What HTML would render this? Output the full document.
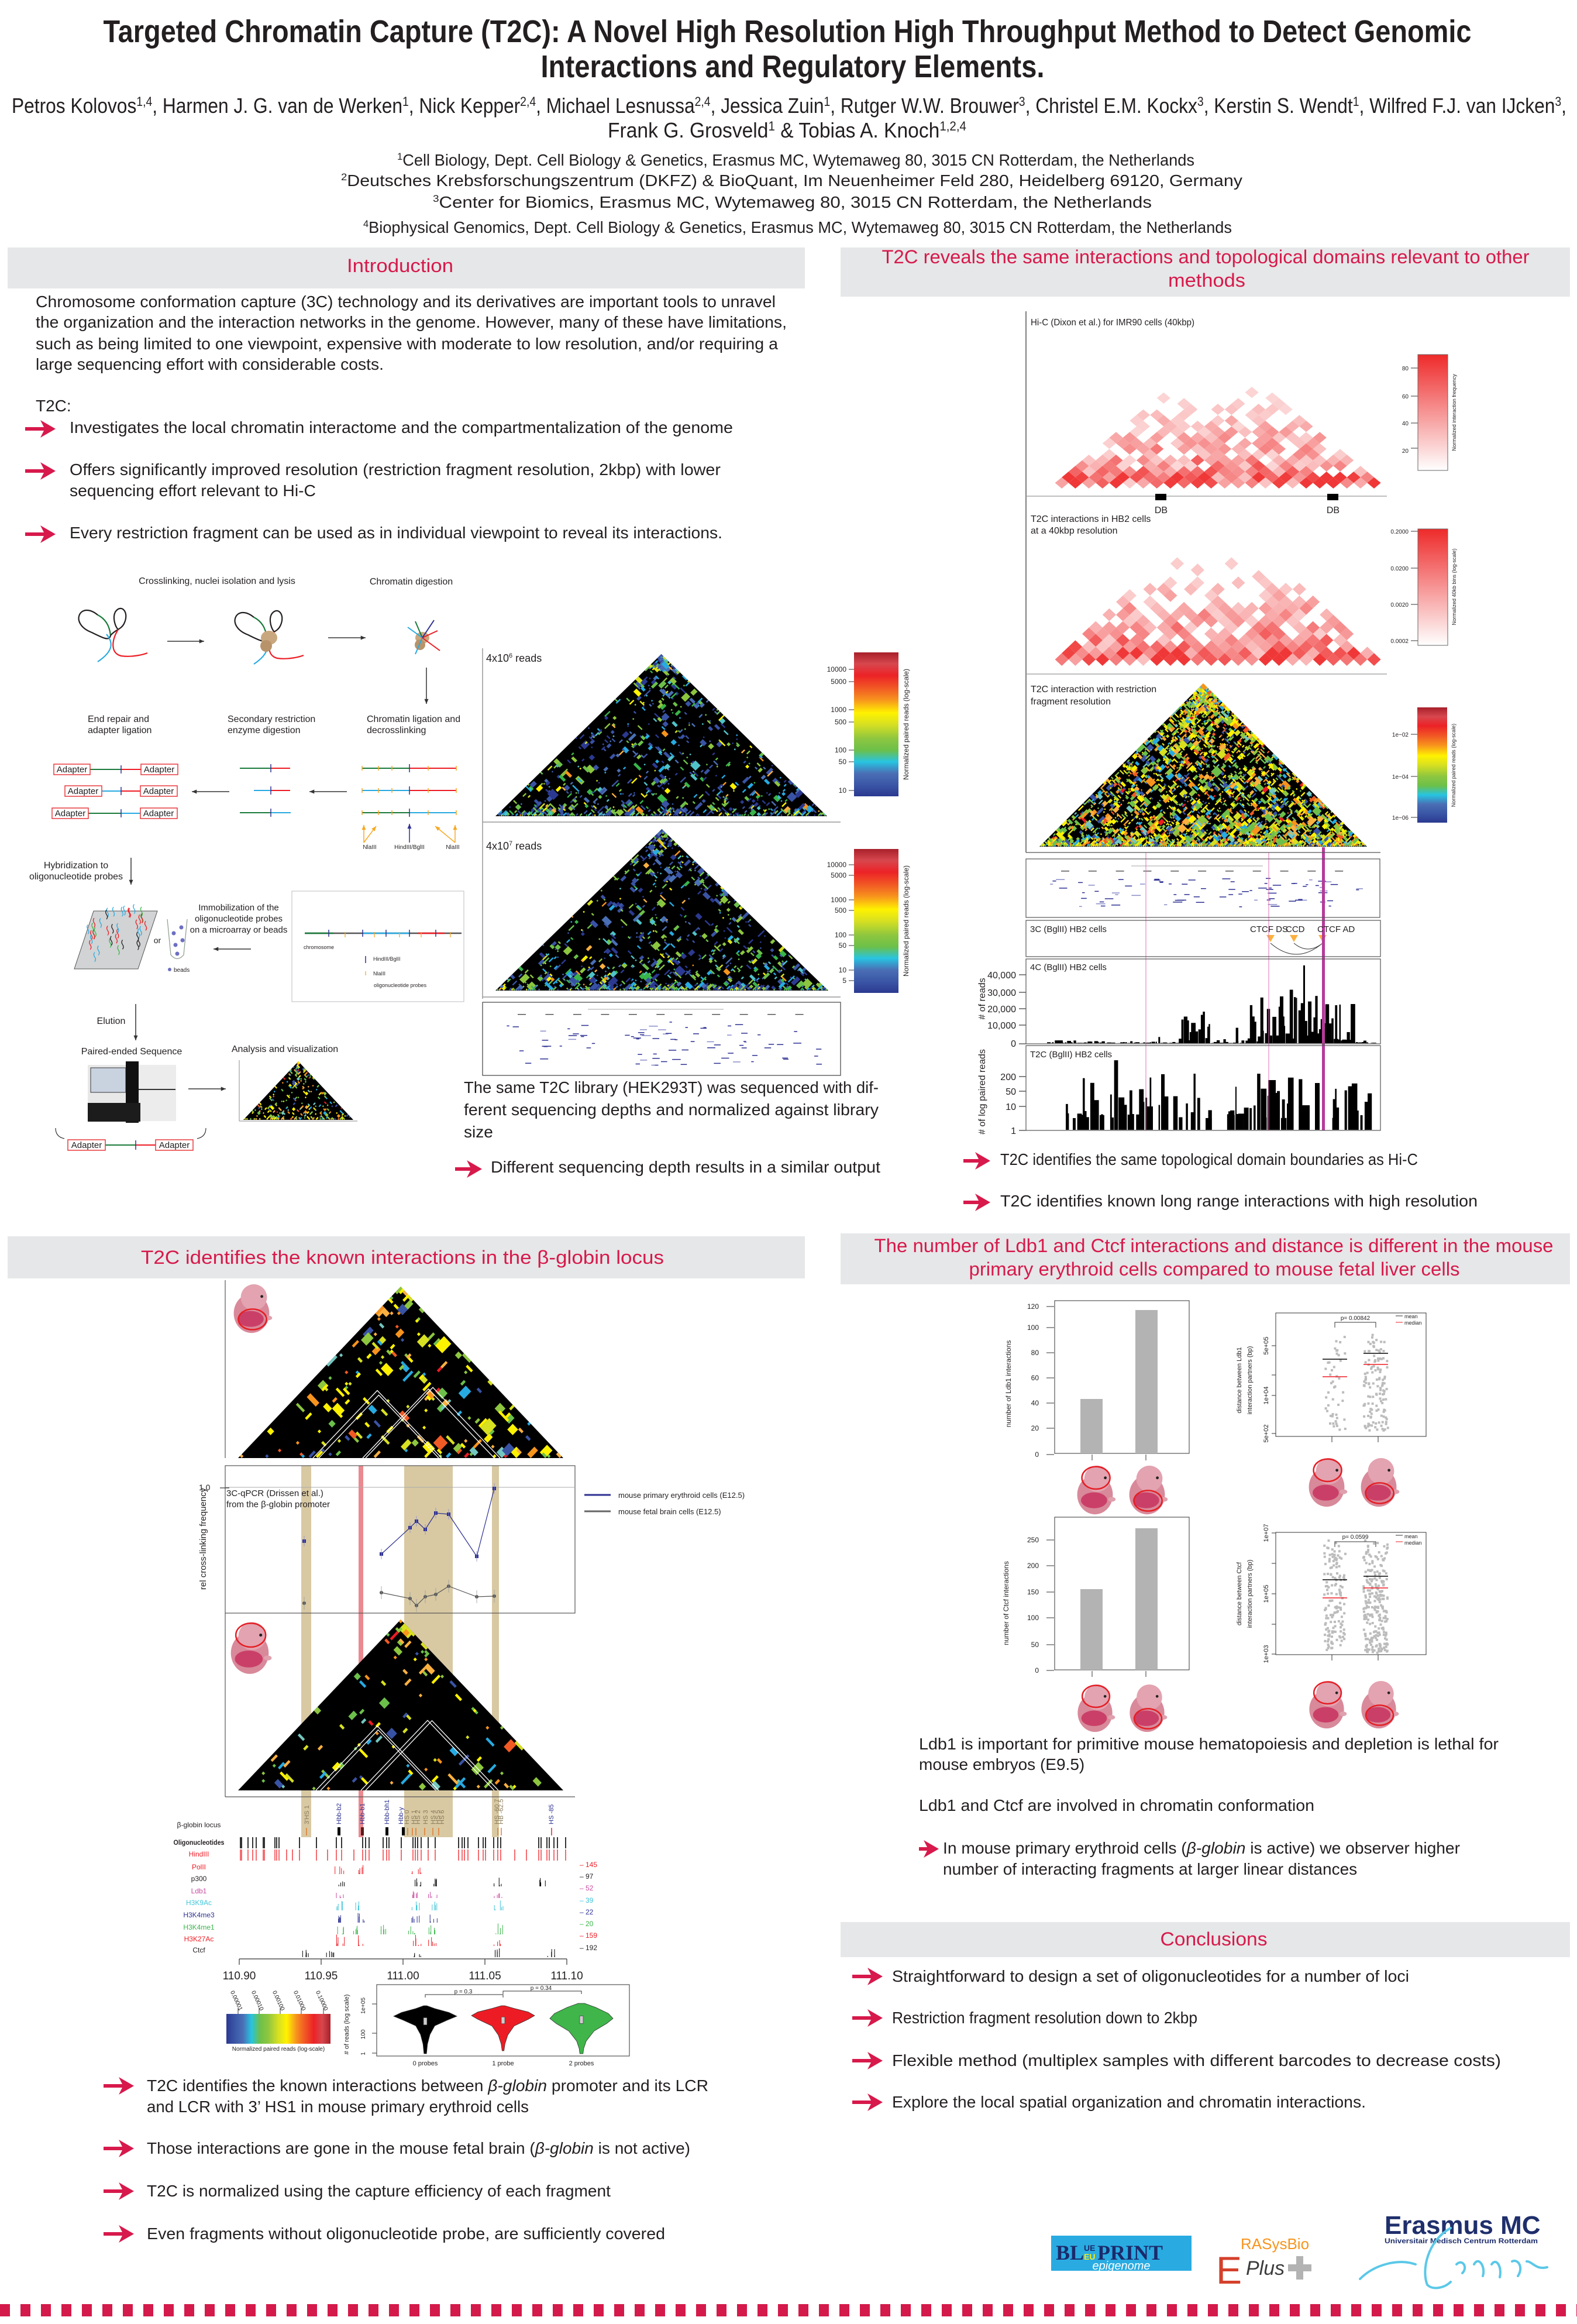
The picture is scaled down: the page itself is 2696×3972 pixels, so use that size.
<!DOCTYPE html>
<html><head><meta charset="utf-8">
<style>
html,body{margin:0;padding:0;background:#fff;}
svg{display:block;}
text{font-family:"Liberation Sans",sans-serif;fill:#231f20;}
.h{fill:#d7194b;font-size:32px;text-anchor:middle;}
.b{font-size:28px;}
.w{font-size:16px;}
.sm{font-size:11px;}
</style></head><body>
<svg id="s" xmlns="http://www.w3.org/2000/svg" width="2696" height="3972" viewBox="0 0 2696 3972">
<defs>
<linearGradient id="rb" x1="0" y1="0" x2="0" y2="1">
<stop offset="0" stop-color="#a8202a"/><stop offset="0.08" stop-color="#d7474e"/><stop offset="0.16" stop-color="#ec2227"/><stop offset="0.25" stop-color="#f15a24"/><stop offset="0.33" stop-color="#f7941d"/><stop offset="0.42" stop-color="#fff200"/><stop offset="0.5" stop-color="#d7e021"/><stop offset="0.6" stop-color="#8dc63f"/><stop offset="0.68" stop-color="#6cc04a"/><stop offset="0.76" stop-color="#27c4e1"/><stop offset="0.84" stop-color="#4a6fb5"/><stop offset="0.93" stop-color="#3953a4"/><stop offset="1" stop-color="#2b3990"/>
</linearGradient>
<linearGradient id="rbh" x1="1" y1="0" x2="0" y2="0">
<stop offset="0" stop-color="#a8202a"/><stop offset="0.08" stop-color="#d7474e"/><stop offset="0.16" stop-color="#ec2227"/><stop offset="0.25" stop-color="#f15a24"/><stop offset="0.33" stop-color="#f7941d"/><stop offset="0.42" stop-color="#fff200"/><stop offset="0.5" stop-color="#d7e021"/><stop offset="0.6" stop-color="#8dc63f"/><stop offset="0.68" stop-color="#6cc04a"/><stop offset="0.76" stop-color="#27c4e1"/><stop offset="0.84" stop-color="#4a6fb5"/><stop offset="0.93" stop-color="#3953a4"/><stop offset="1" stop-color="#2b3990"/>
</linearGradient>
<linearGradient id="rd" x1="0" y1="0" x2="0" y2="1">
<stop offset="0" stop-color="#ee2a2a"/><stop offset="1" stop-color="#ffffff"/>
</linearGradient>
</defs>
<rect width="2696" height="3972" fill="#fff"/>
<g id="L"></g>

<!-- TITLE -->
<text x="1346" y="72" text-anchor="middle" font-size="54" font-weight="bold" textLength="2339" lengthAdjust="spacingAndGlyphs">Targeted Chromatin Capture (T2C): A Novel High Resolution High Throughput Method to Detect Genomic</text>
<text x="1355" y="132" text-anchor="middle" font-size="54" font-weight="bold" textLength="861" lengthAdjust="spacingAndGlyphs">Interactions and Regulatory Elements.</text>
<text x="20" y="193" font-size="36" textLength="2658" lengthAdjust="spacingAndGlyphs">Petros Kolovos<tspan font-size="22" dy="-12">1,4</tspan><tspan dy="12">, Harmen J. G. van de Werken</tspan><tspan font-size="22" dy="-12">1</tspan><tspan dy="12">, Nick Kepper</tspan><tspan font-size="22" dy="-12">2,4</tspan><tspan dy="12">, Michael Lesnussa</tspan><tspan font-size="22" dy="-12">2,4</tspan><tspan dy="12">, Jessica Zuin</tspan><tspan font-size="22" dy="-12">1</tspan><tspan dy="12">, Rutger W.W. Brouwer</tspan><tspan font-size="22" dy="-12">3</tspan><tspan dy="12">, Christel E.M. Kockx</tspan><tspan font-size="22" dy="-12">3</tspan><tspan dy="12">, Kerstin S. Wendt</tspan><tspan font-size="22" dy="-12">1</tspan><tspan dy="12">, Wilfred F.J. van IJcken</tspan><tspan font-size="22" dy="-12">3</tspan><tspan dy="12">,</tspan></text>
<text x="1039" y="235" font-size="36" textLength="613" lengthAdjust="spacingAndGlyphs">Frank G. Grosveld<tspan font-size="22" dy="-12">1</tspan><tspan dy="12"> &amp; Tobias A. Knoch</tspan><tspan font-size="22" dy="-12">1,2,4</tspan></text>
<text x="679" y="283" font-size="28" textLength="1363" lengthAdjust="spacingAndGlyphs"><tspan font-size="17" dy="-10">1</tspan><tspan dy="10">Cell Biology, Dept. Cell Biology &amp; Genetics, Erasmus MC,  Wytemaweg 80, 3015 CN Rotterdam, the Netherlands</tspan></text>
<text x="583" y="318" font-size="28" textLength="1541" lengthAdjust="spacingAndGlyphs"><tspan font-size="17" dy="-10">2</tspan><tspan dy="10">Deutsches Krebsforschungszentrum (DKFZ) &amp; BioQuant, Im Neuenheimer Feld 280, Heidelberg 69120, Germany</tspan></text>
<text x="740" y="355" font-size="28" textLength="1229" lengthAdjust="spacingAndGlyphs"><tspan font-size="17" dy="-10">3</tspan><tspan dy="10">Center for Biomics, Erasmus MC,  Wytemaweg 80, 3015 CN Rotterdam, the Netherlands</tspan></text>
<text x="621" y="398" font-size="28" textLength="1485" lengthAdjust="spacingAndGlyphs"><tspan font-size="17" dy="-10">4</tspan><tspan dy="10">Biophysical Genomics, Dept. Cell Biology &amp; Genetics, Erasmus MC,  Wytemaweg 80, 3015 CN Rotterdam, the Netherlands</tspan></text>

<!-- HEADER BARS -->
<rect x="13" y="423" width="1363" height="70" fill="#e6e7e8"/>
<text class="h" x="684" y="465" textLength="182" lengthAdjust="spacingAndGlyphs">Introduction</text>
<rect x="1437" y="423" width="1247" height="84" fill="#e6e7e8"/>
<text class="h" x="2061" y="450" textLength="1107" lengthAdjust="spacingAndGlyphs">T2C reveals the same interactions and topological domains relevant to other</text>
<text class="h" x="2063" y="490" textLength="132" lengthAdjust="spacingAndGlyphs">methods</text>
<rect x="13" y="2113" width="1363" height="72" fill="#e6e7e8"/>
<text class="h" x="688" y="2160" textLength="894" lengthAdjust="spacingAndGlyphs">T2C identifies the known interactions in the β-globin locus</text>
<rect x="1437" y="2108" width="1247" height="87" fill="#e6e7e8"/>
<text class="h" x="2075" y="2140" textLength="1161" lengthAdjust="spacingAndGlyphs">The number of Ldb1 and Ctcf interactions and distance is different in the mouse</text>
<text class="h" x="2076" y="2180" textLength="839" lengthAdjust="spacingAndGlyphs">primary erythroid cells compared to mouse fetal liver cells</text>
<rect x="1437" y="3285" width="1247" height="60" fill="#e6e7e8"/>
<text class="h" x="2075" y="3325" textLength="183" lengthAdjust="spacingAndGlyphs">Conclusions</text>

<!-- INTRO TEXT -->
<text class="b" x="61" y="525" textLength="1265" lengthAdjust="spacingAndGlyphs">Chromosome conformation capture (3C) technology and its derivatives are important tools to unravel</text>
<text class="b" x="61" y="560" textLength="1284" lengthAdjust="spacingAndGlyphs">the organization and the interaction networks in the genome. However, many of these have limitations,</text>
<text class="b" x="61" y="597" textLength="1269" lengthAdjust="spacingAndGlyphs">such as being limited to one viewpoint, expensive with moderate to low resolution, and/or requiring a</text>
<text class="b" x="61" y="632" textLength="595" lengthAdjust="spacingAndGlyphs">large sequencing effort with considerable costs.</text>
<text class="b" x="61" y="703">T2C:</text>
<text class="b" x="119" y="740" textLength="1134" lengthAdjust="spacingAndGlyphs">Investigates the local chromatin interactome and the compartmentalization of the genome</text>
<text class="b" x="119" y="812" textLength="1113" lengthAdjust="spacingAndGlyphs">Offers significantly improved resolution (restriction fragment resolution, 2kbp) with lower</text>
<text class="b" x="119" y="848" textLength="421" lengthAdjust="spacingAndGlyphs">sequencing effort relevant to Hi-C</text>
<text class="b" x="119" y="920" textLength="1116" lengthAdjust="spacingAndGlyphs">Every restriction fragment can be used as in individual viewpoint to reveal its interactions.</text>

<!-- WORKFLOW LABELS -->
<text class="w" x="371" y="998" text-anchor="middle">Crosslinking, nuclei isolation and lysis</text>
<text class="w" x="703" y="999" text-anchor="middle">Chromatin digestion</text>
<text class="w" x="150" y="1234">End repair and</text>
<text class="w" x="150" y="1253">adapter ligation</text>
<text class="w" x="389" y="1234">Secondary restriction</text>
<text class="w" x="389" y="1253">enzyme digestion</text>
<text class="w" x="627" y="1234">Chromatin ligation and</text>
<text class="w" x="627" y="1253">decrosslinking</text>
<g font-size="15">
<rect x="92" y="1306" width="62" height="18" fill="#fff" stroke="#e8383d" stroke-width="1.5"/><text x="123" y="1320" text-anchor="middle" font-size="15">Adapter</text>
<rect x="241" y="1306" width="63" height="18" fill="#fff" stroke="#e8383d" stroke-width="1.5"/><text x="272" y="1320" text-anchor="middle" font-size="15">Adapter</text>
<rect x="111" y="1343" width="63" height="18" fill="#fff" stroke="#e8383d" stroke-width="1.5"/><text x="142" y="1357" text-anchor="middle" font-size="15">Adapter</text>
<rect x="240" y="1343" width="63" height="18" fill="#fff" stroke="#e8383d" stroke-width="1.5"/><text x="271" y="1357" text-anchor="middle" font-size="15">Adapter</text>
<rect x="89" y="1381" width="62" height="18" fill="#fff" stroke="#e8383d" stroke-width="1.5"/><text x="120" y="1395" text-anchor="middle" font-size="15">Adapter</text>
<rect x="240" y="1381" width="63" height="18" fill="#fff" stroke="#e8383d" stroke-width="1.5"/><text x="271" y="1395" text-anchor="middle" font-size="15">Adapter</text>
<rect x="116" y="1948" width="64" height="18" fill="#fff" stroke="#e8383d" stroke-width="1.5"/><text x="148" y="1962" text-anchor="middle" font-size="15">Adapter</text>
<rect x="266" y="1948" width="64" height="18" fill="#fff" stroke="#e8383d" stroke-width="1.5"/><text x="298" y="1962" text-anchor="middle" font-size="15">Adapter</text>
</g>
<text x="632" y="1451" font-size="10" text-anchor="middle">NlaIII</text>
<text x="700" y="1451" font-size="10" text-anchor="middle">HindIII/BglII</text>
<text x="774" y="1451" font-size="10" text-anchor="middle">NlaIII</text>
<text class="w" x="130" y="1484" text-anchor="middle">Hybridization to</text>
<text class="w" x="130" y="1503" text-anchor="middle">oligonucleotide probes</text>
<text x="269" y="1612" font-size="14" text-anchor="middle">or</text>
<text x="297" y="1661" font-size="10">beads</text>
<text x="408" y="1556" font-size="15" text-anchor="middle">Immobilization of the</text>
<text x="408" y="1575" font-size="15" text-anchor="middle">oligonucleotide probes</text>
<text x="408" y="1594" font-size="15" text-anchor="middle">on a microarray or beads</text>
<rect x="499" y="1523" width="294" height="189" fill="none" stroke="#bcbec0" stroke-width="1"/>
<text x="519" y="1622" font-size="9">chromosome</text>
<text x="638" y="1642" font-size="9">HindIII/BglII</text>
<text x="638" y="1667" font-size="9">NlaIII</text>
<text x="639" y="1687" font-size="9">oligonucleotide probes</text>
<text class="w" x="190" y="1750" text-anchor="middle">Elution</text>
<text class="w" x="225" y="1802" text-anchor="middle">Paired-ended Sequence</text>
<text class="w" x="487" y="1798" text-anchor="middle">Analysis and visualization</text>

<!-- INTRO HEATMAP LABELS -->
<line x1="825" y1="1108" x2="825" y2="1707" stroke="#999" stroke-width="1.5"/>
<line x1="825" y1="1405" x2="1437" y2="1405" stroke="#999" stroke-width="1.5"/>
<line x1="825" y1="1704" x2="1437" y2="1704" stroke="#999" stroke-width="1.5"/>
<text x="831" y="1131" font-size="18">4x10<tspan font-size="11" dy="-7">6</tspan><tspan dy="7"> reads</tspan></text>
<text x="831" y="1452" font-size="18">4x10<tspan font-size="11" dy="-7">7</tspan><tspan dy="7"> reads</tspan></text>
<rect x="1460" y="1115" width="76" height="246" fill="url(#rb)"/>
<rect x="1460" y="1451" width="76" height="246" fill="url(#rb)"/>
<g font-size="12" text-anchor="end">
<text x="1447" y="1148">10000</text><text x="1447" y="1169">5000</text><text x="1447" y="1217">1000</text><text x="1447" y="1238">500</text><text x="1447" y="1286">100</text><text x="1447" y="1306">50</text><text x="1447" y="1355">10</text>
<text x="1447" y="1482">10000</text><text x="1447" y="1500">5000</text><text x="1447" y="1542">1000</text><text x="1447" y="1560">500</text><text x="1447" y="1602">100</text><text x="1447" y="1620">50</text><text x="1447" y="1662">10</text><text x="1447" y="1680">5</text>
</g>
<text x="1553" y="1238" font-size="12" text-anchor="middle" transform="rotate(-90 1553 1238)">Normalized paired reads (log-scale)</text>
<text x="1553" y="1574" font-size="12" text-anchor="middle" transform="rotate(-90 1553 1574)">Normalized paired reads (log-scale)</text>
<rect x="825" y="1713" width="612" height="125" fill="none" stroke="#666" stroke-width="1.5"/>
<text class="b" x="793" y="1868" textLength="709" lengthAdjust="spacingAndGlyphs">The same T2C library (HEK293T) was sequenced with dif-</text>
<text class="b" x="793" y="1906" textLength="709" lengthAdjust="spacingAndGlyphs">ferent sequencing depths and normalized against library</text>
<text class="b" x="793" y="1944">size</text>
<text class="b" x="839" y="2004" textLength="666" lengthAdjust="spacingAndGlyphs">Different sequencing depth results in a similar output</text>

<!-- RIGHT TOP PANEL -->
<line x1="1754" y1="532" x2="1754" y2="1457" stroke="#555" stroke-width="1.5"/>
<line x1="1754" y1="848" x2="2371" y2="848" stroke="#999" stroke-width="1.2"/>
<line x1="1754" y1="1152" x2="2371" y2="1152" stroke="#999" stroke-width="1.2"/>
<line x1="1754" y1="1457" x2="2360" y2="1457" stroke="#555" stroke-width="1.2"/>
<text x="1762" y="556" font-size="16" textLength="280" lengthAdjust="spacingAndGlyphs">Hi-C (Dixon et al.) for IMR90 cells (40kbp)</text>
<rect x="1975" y="844" width="19" height="11" fill="#000"/><rect x="2269" y="844" width="19" height="11" fill="#000"/>
<text x="1985" y="877" font-size="16" text-anchor="middle">DB</text><text x="2279" y="877" font-size="16" text-anchor="middle">DB</text>
<text x="1762" y="892" font-size="16">T2C interactions in HB2 cells</text>
<text x="1762" y="912" font-size="16">at a 40kbp resolution</text>
<text x="1762" y="1183" font-size="16">T2C interaction with restriction</text>
<text x="1762" y="1204" font-size="16">fragment resolution</text>
<rect x="2424" y="606" width="51" height="198" fill="url(#rd)" stroke="#666" stroke-width="1"/>
<rect x="2424" y="904" width="51" height="199" fill="url(#rd)" stroke="#666" stroke-width="1"/>
<rect x="2423" y="1209" width="51" height="197" fill="url(#rb)"/>
<g font-size="10" text-anchor="end">
<text x="2408" y="633">80</text><text x="2408" y="681">60</text><text x="2408" y="727">40</text><text x="2408" y="774">20</text>
<text x="2408" y="912">0.2000</text><text x="2408" y="975">0.0200</text><text x="2408" y="1037">0.0020</text><text x="2408" y="1099">0.0002</text>
<text x="2408" y="1259">1e−02</text><text x="2408" y="1331">1e−04</text><text x="2408" y="1401">1e−06</text>
</g>
<text x="2489" y="705" font-size="9" text-anchor="middle" transform="rotate(-90 2489 705)">Normalized interaction frequency</text>
<text x="2489" y="1003" font-size="9" text-anchor="middle" transform="rotate(-90 2489 1003)">Normalized 40kb bins (log-scale)</text>
<text x="2488" y="1308" font-size="9" text-anchor="middle" transform="rotate(-90 2488 1308)">Normalized paired reads (log-scale)</text>
<rect x="1754" y="1468" width="605" height="100" fill="none" stroke="#555" stroke-width="1.2"/>
<rect x="1754" y="1573" width="606" height="62" fill="none" stroke="#555" stroke-width="1.2"/>
<rect x="1754" y="1639" width="606" height="145" fill="none" stroke="#555" stroke-width="1.2"/>
<rect x="1754" y="1787" width="606" height="145" fill="none" stroke="#555" stroke-width="1.2"/>
<text x="1761" y="1593" font-size="15">3C (BglII) HB2 cells</text>
<text x="2137" y="1593" font-size="15">CTCF DS</text>
<text x="2198" y="1593" font-size="15">CCD</text>
<text x="2252" y="1593" font-size="15">CTCF AD</text>
<text x="1761" y="1658" font-size="15">4C (BglII) HB2 cells</text>
<text x="1761" y="1807" font-size="15">T2C (BglII) HB2 cells</text>
<g font-size="16" text-anchor="end">
<text x="1737" y="1672">40,000</text><text x="1737" y="1702">30,000</text><text x="1737" y="1730">20,000</text><text x="1737" y="1758">10,000</text><text x="1737" y="1789">0</text>
<text x="1737" y="1846">200</text><text x="1737" y="1871">50</text><text x="1737" y="1897">10</text><text x="1737" y="1938">1</text>
</g>
<text x="1684" y="1707" font-size="16" text-anchor="middle" transform="rotate(-90 1684 1707)"># of reads</text>
<text x="1684" y="1866" font-size="16" text-anchor="middle" transform="rotate(-90 1684 1866)"># of log paired reads</text>
<text class="b" x="1710" y="1991" textLength="714" lengthAdjust="spacingAndGlyphs">T2C identifies the same topological domain boundaries as Hi-C</text>
<text class="b" x="1710" y="2062" textLength="816" lengthAdjust="spacingAndGlyphs">T2C identifies known long range interactions with high resolution</text>

<!-- BOTTOM LEFT -->
<text x="387" y="2557" font-size="15">3C-qPCR  (Drissen et al.)</text>
<text x="387" y="2576" font-size="15">from the β-globin promoter</text>
<text x="340" y="2547" font-size="14">1.0</text>
<text x="352" y="2630" font-size="15" text-anchor="middle" transform="rotate(-90 352 2630)">rel cross-linking frequency</text>
<text x="1057" y="2560" font-size="13">mouse primary erythroid cells (E12.5)</text>
<text x="1057" y="2588" font-size="13">mouse fetal brain cells (E12.5)</text>
<g font-size="12" text-anchor="middle">
<text x="340" y="3123" textLength="75" lengthAdjust="spacingAndGlyphs">β-globin locus</text>
<text x="340" y="3153" font-weight="bold" textLength="87" lengthAdjust="spacingAndGlyphs">Oligonucleotides</text>
<text x="340" y="3173" style="fill:#ed1c24">HindIII</text>
<text x="340" y="3195" style="fill:#ed1c24">PolII</text>
<text x="340" y="3215">p300</text>
<text x="340" y="3236" style="fill:#c94ba0">Ldb1</text>
<text x="340" y="3256" style="fill:#3fc5d9">H3K9Ac</text>
<text x="340" y="3277" style="fill:#2e3192">H3K4me3</text>
<text x="340" y="3298" style="fill:#39b54a">H3K4me1</text>
<text x="340" y="3318" style="fill:#ed1c24">H3K27Ac</text>
<text x="340" y="3337">Ctcf</text>
</g>
<g font-size="12">
<text x="991" y="3191" style="fill:#ed1c24">– 145</text>
<text x="991" y="3211">– 97</text>
<text x="991" y="3231" style="fill:#c94ba0">– 52</text>
<text x="991" y="3252" style="fill:#3fc5d9">– 39</text>
<text x="991" y="3272" style="fill:#2e3192">– 22</text>
<text x="991" y="3292" style="fill:#39b54a">– 20</text>
<text x="991" y="3312" style="fill:#ed1c24">– 159</text>
<text x="991" y="3333">– 192</text>
</g>
<g font-size="11">
<text x="528" y="3118" transform="rotate(-90 528 3118)" style="fill:#8a7b5a">3'HS 1</text>
<text x="583" y="3118" transform="rotate(-90 583 3118)" style="fill:#2e3192">Hbb-b2</text>
<text x="623" y="3118" transform="rotate(-90 623 3118)" style="fill:#2e3192">Hbb-b1</text>
<text x="665" y="3118" transform="rotate(-90 665 3118)" style="fill:#2e3192">Hbb-bh1</text>
<text x="689" y="3118" transform="rotate(-90 689 3118)" style="fill:#2e3192">Hbb-y</text>
<text x="699" y="3118" transform="rotate(-90 699 3118)" style="fill:#8a7b5a">HS 0</text>
<text x="711" y="3118" transform="rotate(-90 711 3118)" style="fill:#8a7b5a">HS 1</text>
<text x="718" y="3118" transform="rotate(-90 718 3118)" style="fill:#8a7b5a">HS 2</text>
<text x="731" y="3118" transform="rotate(-90 731 3118)" style="fill:#8a7b5a">HS 3</text>
<text x="744" y="3118" transform="rotate(-90 744 3118)" style="fill:#8a7b5a">HS 4</text>
<text x="752" y="3118" transform="rotate(-90 752 3118)" style="fill:#8a7b5a">HS 5</text>
<text x="759" y="3118" transform="rotate(-90 759 3118)" style="fill:#8a7b5a">HS 6</text>
<text x="853" y="3118" transform="rotate(-90 853 3118)" style="fill:#8a7b5a">HS -60.7</text>
<text x="860" y="3118" transform="rotate(-90 860 3118)" style="fill:#8a7b5a">HB -62.5</text>
<text x="946" y="3118" transform="rotate(-90 946 3118)" style="fill:#2e3192">HS -85</text>
</g>
<g font-size="19" text-anchor="middle">
<text x="409" y="3383">110.90</text><text x="549" y="3383">110.95</text><text x="689" y="3383">111.00</text><text x="829" y="3383">111.05</text><text x="969" y="3383">111.10</text>
</g>
<rect x="387" y="3442" width="178" height="51" fill="url(#rbh)"/>
<text x="476" y="3505" font-size="10" text-anchor="middle">Normalized paired reads (log-scale)</text>
<g font-size="10" text-anchor="end">
<text x="409" y="3437" transform="rotate(65 409 3437)">0.00001</text>
<text x="445" y="3437" transform="rotate(65 445 3437)">0.00010</text>
<text x="481" y="3437" transform="rotate(65 481 3437)">0.00100</text>
<text x="517" y="3437" transform="rotate(65 517 3437)">0.01000</text>
<text x="555" y="3437" transform="rotate(65 555 3437)">0.10000</text>
</g>
<rect x="644" y="3392" width="432" height="122" fill="none" stroke="#555" stroke-width="1.2"/>
<text x="792" y="3407" font-size="10" text-anchor="middle">p = 0.3</text>
<text x="925" y="3401" font-size="10" text-anchor="middle">p = 0.34</text>
<text x="727" y="3530" font-size="11" text-anchor="middle">0 probes</text>
<text x="860" y="3530" font-size="11" text-anchor="middle">1 probe</text>
<text x="994" y="3530" font-size="11" text-anchor="middle">2 probes</text>
<text x="624" y="3428" font-size="10" text-anchor="middle" transform="rotate(-90 624 3428)">1e+05</text>
<text x="624" y="3477" font-size="10" text-anchor="middle" transform="rotate(-90 624 3477)">100</text>
<text x="624" y="3510" font-size="10" text-anchor="middle" transform="rotate(-90 624 3510)">1</text>
<text x="596" y="3460" font-size="11" text-anchor="middle" transform="rotate(-90 596 3460)"># of reads (log scale)</text>
<text class="b" x="251" y="3574" textLength="960" lengthAdjust="spacingAndGlyphs">T2C identifies the known interactions between <tspan font-style="italic">β-globin</tspan> promoter and its LCR</text>
<text class="b" x="251" y="3610" textLength="653" lengthAdjust="spacingAndGlyphs">and LCR with 3’ HS1 in mouse primary erythroid cells</text>
<text class="b" x="251" y="3681" textLength="929" lengthAdjust="spacingAndGlyphs">Those interactions are gone in the mouse fetal brain (<tspan font-style="italic">β-globin</tspan> is not active)</text>
<text class="b" x="251" y="3754" textLength="793" lengthAdjust="spacingAndGlyphs">T2C is normalized using the capture efficiency of each fragment</text>
<text class="b" x="251" y="3827" textLength="886" lengthAdjust="spacingAndGlyphs">Even fragments without oligonucleotide probe, are sufficiently covered</text>

<!-- BOTTOM RIGHT charts text -->
<g font-size="12" text-anchor="end">
<text x="1776" y="2237">120</text><text x="1776" y="2273">100</text><text x="1776" y="2316">80</text><text x="1776" y="2359">60</text><text x="1776" y="2402">40</text><text x="1776" y="2445">20</text><text x="1776" y="2490">0</text>
<text x="1776" y="2636">250</text><text x="1776" y="2680">200</text><text x="1776" y="2725">150</text><text x="1776" y="2769">100</text><text x="1776" y="2815">50</text><text x="1776" y="2859">0</text>
</g>
<text x="1728" y="2365" font-size="12" text-anchor="middle" transform="rotate(-90 1728 2365)">number of Ldb1 interactions</text>
<text x="1724" y="2740" font-size="12" text-anchor="middle" transform="rotate(-90 1724 2740)">number of Ctcf interactions</text>
<g font-size="11" text-anchor="middle">
<text x="2168" y="2300" transform="rotate(-90 2168 2300)">5e+05</text>
<text x="2168" y="2385" transform="rotate(-90 2168 2385)">1e+04</text>
<text x="2168" y="2450" transform="rotate(-90 2168 2450)">5e+02</text>
<text x="2168" y="2620" transform="rotate(-90 2168 2620)">1e+07</text>
<text x="2168" y="2724" transform="rotate(-90 2168 2724)">1e+05</text>
<text x="2168" y="2827" transform="rotate(-90 2168 2827)">1e+03</text>
</g>
<text x="2122" y="2359" font-size="11" text-anchor="middle" transform="rotate(-90 2122 2359)">distance between  Ldb1</text>
<text x="2140" y="2359" font-size="11" text-anchor="middle" transform="rotate(-90 2140 2359)">interaction partners (bp)</text>
<text x="2122" y="2724" font-size="11" text-anchor="middle" transform="rotate(-90 2122 2724)">distance between Ctcf</text>
<text x="2140" y="2724" font-size="11" text-anchor="middle" transform="rotate(-90 2140 2724)">interaction partners (bp)</text>
<text x="2317" y="2256" font-size="10" text-anchor="middle">p= 0.00842</text>
<text x="2317" y="2630" font-size="10" text-anchor="middle">p= 0.0599</text>
<g font-size="9"><text x="2401" y="2253">mean</text><text x="2401" y="2264">median</text><text x="2401" y="2629">mean</text><text x="2401" y="2640">median</text></g>
<text class="b" x="1571" y="2990" textLength="991" lengthAdjust="spacingAndGlyphs">Ldb1 is important for primitive mouse hematopoiesis and depletion is lethal for</text>
<text class="b" x="1571" y="3025">mouse embryos (E9.5)</text>
<text class="b" x="1571" y="3095" textLength="676" lengthAdjust="spacingAndGlyphs">Ldb1 and Ctcf are involved in chromatin conformation</text>
<text class="b" x="1612" y="3168" textLength="884" lengthAdjust="spacingAndGlyphs">In mouse primary erythroid cells (<tspan font-style="italic">β-globin</tspan> is active) we observer higher</text>
<text class="b" x="1612" y="3204">number of interacting fragments at larger linear distances</text>

<!-- CONCLUSIONS -->
<text class="b" x="1525" y="3387" textLength="884" lengthAdjust="spacingAndGlyphs">Straightforward to design a set of oligonucleotides for a number of loci</text>
<text class="b" x="1525" y="3458" textLength="522" lengthAdjust="spacingAndGlyphs">Restriction fragment resolution down to 2kbp</text>
<text class="b" x="1525" y="3531" textLength="1041" lengthAdjust="spacingAndGlyphs">Flexible method (multiplex samples with different barcodes to decrease costs)</text>
<text class="b" x="1525" y="3602" textLength="810" lengthAdjust="spacingAndGlyphs">Explore the local spatial organization and chromatin interactions.</text>

<!-- LOGOS -->
<rect x="1797" y="3821" width="240" height="60" fill="#29abe2"/>
<text x="1805" y="3862" font-size="36" font-weight="bold" style="fill:#1b2a6b;font-family:'Liberation Serif',serif">BL</text>
<text x="1853" y="3847" font-size="14" font-weight="bold" style="fill:#1b2a6b">UE</text>
<text x="1853" y="3862" font-size="14" font-weight="bold" style="fill:#f7ec13">EU</text>
<text x="1876" y="3862" font-size="36" font-weight="bold" style="fill:#1b2a6b;font-family:'Liberation Serif',serif">PRINT</text>
<text x="1917" y="3879" font-size="20" font-style="italic" text-anchor="middle" style="fill:#fff">epigenome</text>
<text x="2079" y="3903" font-size="66" style="fill:#d4402b">E</text>
<text x="2121" y="3844" font-size="26" style="fill:#f7941d">RASysBio</text>
<text x="2130" y="3888" font-size="34" font-style="italic" style="fill:#3c3c3c">Plus</text>
<rect x="2216" y="3856" width="12" height="40" fill="#b3b3b3"/><rect x="2202" y="3870" width="40" height="12" fill="#b3b3b3"/>
<text x="2367" y="3818" font-size="44" font-weight="bold" style="fill:#1f2f6c">Erasmus MC</text>
<text x="2367" y="3834" font-size="12" font-weight="bold" style="fill:#1f2f6c" textLength="262" lengthAdjust="spacingAndGlyphs">Universitair Medisch Centrum Rotterdam</text>
<path d="M2325,3895 C2350,3870 2390,3860 2420,3870 M2480,3808 C2440,3830 2430,3880 2440,3905 C2450,3915 2470,3910 2480,3900 M2490,3870 c10,-10 20,5 10,15 M2520,3870 c8,-15 20,5 15,20 M2550,3870 c8,-12 18,4 14,22 M2585,3865 c10,-5 20,10 10,25 M2610,3865 c10,0 15,15 35,10" fill="none" stroke="#5bc8e8" stroke-width="4" stroke-linecap="round"/>
</svg>
<script>
const NS='http://www.w3.org/2000/svg';
const layer=document.getElementById('L');
function el(tag,a,p){const e=document.createElementNS(NS,tag);for(const k in a)e.setAttribute(k,a[k]);(p||layer).appendChild(e);return e;}
let seed=987654;
function rnd(){seed|=0;seed=seed+0x6D2B79F5|0;let t=Math.imul(seed^seed>>>15,1|seed);t=t+Math.imul(t^t>>>7,61|t)^t;return((t^t>>>14)>>>0)/4294967296;}
function pick(arr){let tot=0;for(const a of arr)tot+=a[1];let r=rnd()*tot;for(const a of arr){r-=a[1];if(r<=0)return a[0];}return arr[0][0];}
const PAL_COOL=[['#2b3990',5],['#3953a4',5],['#4a6fb5',3],['#27aae1',3],['#4fc3c9',2],['#6cc04a',4],['#8dc63f',4],['#39b54a',2],['#d7e021',1],['#fff200',1.2],['#fbb040',0.6],['#f7941d',0.4]];
const PAL_WARM=[['#fff200',4],['#d7e021',2],['#8dc63f',3],['#6cc04a',2],['#f7941d',2],['#fbb040',2],['#27aae1',1.5],['#3953a4',1.5],['#f15a24',0.8],['#ed1c24',0.4],['#74c7c0',1]];
function tri(L,R,base,apexY,N,count,pal,dens,maxS,bg){
  const g=el('g',{});
  el('polygon',{points:`${L},${base} ${(L+R)/2},${apexY} ${R},${base}`,fill:bg||'#000'},g);
  const w=(R-L)/N,h=2*(base-apexY)/N;
  const P=(i,j)=>(L+(i+j)/2*w).toFixed(1)+','+(base-(j-i)/2*h).toFixed(1);
  for(let k=0;k<count;k++){
    let d=Math.floor(Math.pow(rnd(),dens)*(N-1))+1;
    let i=Math.floor(rnd()*(N-d));let j=i+d;
    let s1=1+Math.floor(rnd()*rnd()*maxS),s2=1+Math.floor(rnd()*rnd()*maxS);
    if(s1>d)s1=d; if(j+s2>N)s2=N-j; if(s2<1)continue;
    el('polygon',{points:[P(i,j),P(i+s1,j),P(i+s1,j+s2),P(i,j+s2)].join(' '),fill:pick(pal)},g);
  }
  return g;
}
function hic(L,R,base,apexY,N,blank){
  const w=(R-L)/N,h=2*(base-apexY)/N;
  const P=(i,j)=>(L+(i+j)/2*w).toFixed(1)+','+(base-(j-i)/2*h).toFixed(1);
  for(let d=1;d<=N;d++)for(let i=0;i+d<=N;i++){
    const j=i+d-1;
    let v=rnd()*Math.pow(1-d/N,1.3)*1.1+(d<3?0.25:0);
    if(v<blank)continue; if(v>1)v=1;
    const c=Math.round(255-v*200);
    el('polygon',{points:[P(i,j+1),P(i+1,j+1),P(i+1,j+2),P(i,j+2)].join(' '),fill:`rgb(${Math.round(255-v*15)},${c},${c})`});
  }
}
function arrow(x,y,len){len=len||52;el('path',{d:`M${x},${y-3} L${x+len-20},${y-3} L${x+len-26},${y-15} L${x+len},${y} L${x+len-26},${y+15} L${x+len-20},${y+3} L${x},${y+3} Z`,fill:'#d7194b'});}
function line(x1,y1,x2,y2,c,w,extra){const a={x1,y1,x2,y2,stroke:c||'#333','stroke-width':w||1.5};if(extra)Object.assign(a,extra);return el('line',a);}
function arr(x1,y1,x2,y2,c){line(x1,y1,x2,y2,c||'#333',1.5);const ang=Math.atan2(y2-y1,x2-x1),s=9;
  el('polygon',{points:`${x2},${y2} ${x2-s*Math.cos(ang-0.4)},${y2-s*Math.sin(ang-0.4)} ${x2-s*Math.cos(ang+0.4)},${y2-s*Math.sin(ang+0.4)}`,fill:c||'#333'});}
function embryo(cx,cy,s,circ){
  const g=el('g',{});
  el('ellipse',{cx:cx,cy:cy+0.12*s,rx:0.38*s,ry:0.42*s,fill:'#d8899a'},g);
  el('circle',{cx:cx+0.05*s,cy:cy-0.22*s,r:0.28*s,fill:'#e3a3b0'},g);
  el('ellipse',{cx:cx-0.02*s,cy:cy+0.24*s,rx:0.28*s,ry:0.17*s,fill:'#c8325f',opacity:0.85},g);
  el('circle',{cx:cx+0.22*s,cy:cy-0.24*s,r:0.03*s,fill:'#222'},g);
  el('ellipse',{cx:cx+0.36*s,cy:cy+0.22*s,rx:0.08*s,ry:0.05*s,fill:'#e0a0ad'},g);
  if(circ==='head')el('ellipse',{cx:cx+0.02*s,cy:cy-0.24*s,rx:0.3*s,ry:0.24*s,fill:'none',stroke:'#e51e25','stroke-width':2.5},g);
  else el('ellipse',{cx:cx+0.02*s,cy:cy+0.25*s,rx:0.3*s,ry:0.22*s,fill:'none',stroke:'#e51e25','stroke-width':2.5},g);
}
arrow(43,733);arrow(43,805);arrow(43,913);
arrow(778,1998,46);arrow(1647,1984,46);arrow(1647,2055,46);
arrow(177,3565);arrow(177,3672);arrow(177,3745);arrow(177,3818);
arrow(1571,3160,34);arrow(1457,3378);arrow(1457,3449);arrow(1457,3522);arrow(1457,3593);

function loops(ox,oy,sc){
  const g=el('g',{transform:`translate(${ox},${oy}) scale(${sc})`});
  el('path',{d:'M40,15 C10,-10 -10,30 30,45 C50,55 60,60 62,50',fill:'none',stroke:'#231f20','stroke-width':2.2},g);
  el('path',{d:'M62,50 C60,30 50,20 40,15',fill:'none',stroke:'#1a7a3a','stroke-width':2.2},g);
  el('path',{d:'M62,50 C70,40 80,40 85,30 C95,10 80,-5 70,10 C65,20 70,35 75,40',fill:'none',stroke:'#231f20','stroke-width':2.2},g);
  el('path',{d:'M55,48 C65,60 70,75 40,95',fill:'none',stroke:'#27aae1','stroke-width':2.2},g);
  el('path',{d:'M75,40 C65,55 60,80 80,85 C100,88 120,82 125,80',fill:'none',stroke:'#ed1c24','stroke-width':2.2},g);
  return g;
}
loops(127,1036,1);loops(394,1040,1);
el('ellipse',{cx:460,cy:1090,rx:14,ry:12,fill:'#c9a77e'});el('ellipse',{cx:455,cy:1104,rx:10,ry:10,fill:'#b8936a'});
el('ellipse',{cx:722,cy:1090,rx:12,ry:10,fill:'#c9a77e'});el('ellipse',{cx:718,cy:1102,rx:9,ry:9,fill:'#b8936a'});
[['#1a7a3a',722,1090,710,1062],['#27aae1',722,1090,697,1072],['#ed1c24',722,1090,748,1078],['#2e3192',722,1090,742,1060],['#27aae1',722,1090,710,1118],['#ed1c24',722,1090,752,1112]].forEach(a=>line(a[1],a[2],a[3],a[4],a[0],2));
arr(286,1096,349,1096);arr(561,1090,625,1090);arr(729,1141,729,1203);
function frag(x1,xm,x2,y,c1,c2){line(x1,y,xm,y,c1,2);line(xm,y,x2,y,c2,2);line(xm,y-7,xm,y+7,'#2e3192',1.5);}
frag(154,207,241,1315,'#1a7a3a','#ed1c24');frag(174,207,240,1352,'#27aae1','#ed1c24');frag(151,207,240,1390,'#1a7a3a','#27aae1');
frag(410,463,496,1313,'#1a7a3a','#ed1c24');frag(434,463,496,1351,'#27aae1','#ed1c24');frag(410,463,497,1389,'#1a7a3a','#27aae1');
frag(619,700,780,1313,'#1a7a3a','#ed1c24');frag(619,700,780,1351,'#27aae1','#ed1c24');frag(619,700,780,1389,'#1a7a3a','#27aae1');
[1313,1351,1389].forEach(y=>{[619,647,670,732,780].forEach(x=>line(x,y-4,x,y+4,'#f7a823',1.5));});
arr(392,1353,328,1353);arr(593,1353,529,1353);
arr(622,1440,622,1410,'#f7a823');arr(622,1440,643,1412,'#f7a823');arr(700,1440,700,1408,'#2e3192');arr(778,1440,778,1410,'#f7a823');arr(778,1440,744,1412,'#f7a823');
arr(224,1466,224,1512);
el('polygon',{points:'160,1557 269,1557 236,1656 127,1656',fill:'#d1d3d4',stroke:'#555','stroke-width':1});
for(let k=0;k<40;k++){const x=150+rnd()*100,y=1560+rnd()*85;el('path',{d:`M${x},${y} q3,-4 0,-8 q-3,-4 0,-8`,fill:'none',stroke:pick([['#ed1c24',1],['#39b54a',1],['#27aae1',1],['#231f20',1]]),'stroke-width':1.3});}
el('path',{d:'M286,1571 L292,1632 Q303,1645 314,1632 L320,1571',fill:'none',stroke:'#8a9a8a','stroke-width':1.2});
[[297,1595],[310,1585],[300,1615],[303,1630],[312,1607]].forEach(p=>el('circle',{cx:p[0],cy:p[1],r:3.5,fill:'#6d6fc2'}));
el('circle',{cx:290,cy:1657,r:3,fill:'#6d6fc2'});
arr(429,1622,365,1622);
line(521,1595,789,1595,'#555',2.5);line(521,1595,570,1595,'#1a7a3a',2.5);line(620,1595,700,1595,'#27aae1',2.5);line(715,1595,760,1595,'#ed1c24',2.5);
[562,620,660,700,745].forEach(x=>line(x,1589,x,1601,'#2e3192',1.5));[590,640,683,720,770].forEach(x=>line(x,1593,x,1602,'#f7a823',1.3));
line(625,1634,625,1646,'#2e3192',1.5);line(625,1660,625,1667,'#f7a823',1.3);
arr(232,1716,232,1778);
el('rect',{x:150,y:1820,width:90,height:96,fill:'#e8e8e8'});el('rect',{x:155,y:1825,width:60,height:42,fill:'#c9d3e0',stroke:'#333'});el('rect',{x:215,y:1814,width:22,height:105,fill:'#111'});el('rect',{x:237,y:1820,width:64,height:96,fill:'#ececec'});el('rect',{x:150,y:1885,width:90,height:32,fill:'#1c1c1c'});line(237,1862,300,1862,'#333',2);
arr(322,1861,386,1861);
tri(416,604,1914,1814,60,260,PAL_WARM,2.4,3,'#000');
line(409,1812,409,1916,'#888',1);line(409,1916,611,1916,'#888',1);
line(180,1957,232,1957,'#1a7a3a',2);line(232,1957,266,1957,'#ed1c24',2);line(232,1949,232,1965,'#2e3192',1.5);
el('path',{d:'M95,1928 q0,15 15,18',fill:'none',stroke:'#333','stroke-width':1.2});el('path',{d:'M352,1928 q0,15 -15,18',fill:'none',stroke:'#333','stroke-width':1.2});

tri(847,1414,1395,1118,160,850,PAL_COOL,2.6,6,'#000');
seed=987654;
tri(847,1416,1693,1417,160,950,PAL_COOL,2.6,6,'#000');
function genes(x,y,w,h,n){for(let k=0;k<n;k++){const gx=x+40+rnd()*(w-80),gy=y+32+rnd()*(h-50);el('rect',{x:gx,y:gy,width:4+rnd()*12,height:1.5,fill:pick([['#2e3192',3],['#8a8cc8',1]])});}
  line(x+180,y+12,x+w-200,y+12,'#888',0.8);for(let k=0;k<11;k++)el('rect',{x:x+60+k*(w-90)/11,y:y+20,width:14,height:1.5,fill:'#555'});}
genes(825,1713,612,125,80);
[[1451,1144],[1451,1165],[1451,1213],[1451,1234],[1451,1282],[1451,1302],[1451,1351],[1451,1478],[1451,1496],[1451,1538],[1451,1556],[1451,1598],[1451,1616],[1451,1658],[1451,1676]].forEach(p=>line(p[0],p[1],p[0]+9,p[1],'#333',1));

hic(1792,2349,835,603,24,0.2);
hic(1792,2349,1138,876,24,0.25);
tri(1777,2337,1447,1168,170,3200,PAL_WARM,2.3,6,'#000');
[633,681,727,770].forEach(y=>line(2412,y-4,2424,y-4,'#333',1));
[908,971,1033,1095,1255,1327,1397].forEach(y=>line(2412,y,2424,y,'#333',1));
genes(1754,1468,605,100,80);
el('polygon',{points:'2165,1598 2179,1598 2172,1610',fill:'#fbb040'});el('polygon',{points:'2205,1598 2219,1598 2212,1610',fill:'#fbb040'});el('polygon',{points:'2254,1598 2268,1598 2261,1610',fill:'#fbb040'});
el('path',{d:'M2172,1612 Q2216,1650 2261,1612 M2212,1612 Q2236,1632 2261,1612',fill:'none',stroke:'#333','stroke-width':1});
for(let x=1790;x<2350;x+=2+rnd()*3){let hh=rnd()*rnd()*6;
  if(x>2015&&x<2070)hh+=rnd()*50;if(x>2130&&x<2310)hh+=rnd()*rnd()*110;if(x>2235&&x<2250)hh+=rnd()*60;
  if(rnd()<0.05)hh+=rnd()*30; el('rect',{x:x,y:1783-hh,width:2+rnd()*6,height:hh,fill:'#000'});}
el('rect',{x:2228,y:1650,width:3,height:133,fill:'#000'});el('rect',{x:2188,y:1703,width:6,height:80,fill:'#000'});
for(let k=0;k<75;k++){const x=1820+rnd()*520;const hh=20+rnd()*rnd()*110;el('rect',{x:x,y:1931-hh,width:2+rnd()*9,height:hh,fill:'#000'});}
[[1959,12,40],[1985,6,95],[2168,13,85],[2200,10,45],[2225,14,42],[2248,8,80]].forEach(b=>el('rect',{x:b[0],y:1931-b[2],width:b[1],height:b[2],fill:'#000'}));
[1666,1696,1724,1752,1784,1840,1865,1891,1932].forEach(y=>line(1742,y,1754,y,'#333',1.2));
line(1959,1457,1959,1932,'#e36fb6',1);line(2169,1457,2169,1932,'#e36fb6',1);
el('rect',{x:2260,y:1448,width:5,height:484,fill:'#b43b9a'});

el('rect',{x:515,y:2505,width:17,height:635,fill:'#d8c9a3'});
el('rect',{x:691,y:2505,width:83,height:635,fill:'#d8c9a3'});
el('rect',{x:841,y:2505,width:12,height:635,fill:'#d8c9a3'});
el('rect',{x:613,y:2505,width:8,height:635,fill:'#ea8a90'});
line(385,2188,385,2492,'#555',1.2);
tri(407,963,2492,2199,90,200,PAL_WARM,1.6,5,'#000');
el('rect',{x:385,y:2505,width:598,height:252,fill:'none',stroke:'#555','stroke-width':1.2});
line(385,2542,983,2542,'#aaa',1);line(376,2543,392,2543,'#333',1.2);
line(385,2757,385,3071,'#555',1.2);line(385,3071,983,3071,'#555',1.2);
tri(407,963,3060,2768,90,120,PAL_WARM,1.6,5,'#000');
function wtri(L,R,base){const a=(L+R)/2;el('polyline',{points:`${L},${base} ${a},${base-(R-L)/2*1.05} ${R},${base}`,fill:'none',stroke:'#fff','stroke-width':1.3});}
wtri(535,755,2492);wtri(545,750,2492);wtri(620,845,2492);wtri(625,855,2492);
wtri(540,750,3060);wtri(548,745,3060);wtri(617,845,3060);wtri(625,852,3060);
const blue=[[652,2656],[701,2611],[712,2600],[727,2614],[745,2586],[767,2588],[815,2660],[845,2544]];
el('polyline',{points:blue.map(p=>p.join(',')).join(' '),fill:'none',stroke:'#2e3192','stroke-width':1.2});
[[520,2634]].concat(blue).forEach(p=>{el('rect',{x:p[0]-3,y:p[1]-3,width:6,height:6,fill:'#2e3192'});line(p[0],p[1]-9,p[0],p[1]+9,'#8a8cc8',0.8);});
const grey=[[652,2722],[701,2732],[712,2744],[727,2729],[745,2725],[767,2711],[815,2729],[845,2728]];
el('polyline',{points:grey.map(p=>p.join(',')).join(' '),fill:'none',stroke:'#555','stroke-width':1.2});
[[520,2740]].concat(grey).forEach(p=>{el('circle',{cx:p[0],cy:p[1],r:3,fill:'#555'});line(p[0],p[1]-11,p[0],p[1]+11,'#999',0.8);});
line(999,2555,1044,2555,'#2e3192',3);line(999,2583,1044,2583,'#666',3);
embryo(430,2235,80,'body');embryo(427,2815,85,'head');
[[579,'#000'],[619,'#5a1a1a'],[661,'#000'],[689,'#000']].forEach(g=>el('rect',{x:g[0]-2,y:3123,width:5,height:14,fill:g[1]}));
[524,697,705,711,726,740,750,851,857].forEach(x=>line(x,3124,x,3137,'#e07b30',1.5));line(943,3124,943,3137,'#ed1c24',1.5);
const ol=[411,413,424,432,438,450,452,470,473,477,512,541,575,584,620,625,631,655,661,665,686,706,710,714,720,732,744,784,790,794,800,818,826,830,844,851,856,921,925,935,939,947,953,967];
ol.forEach(x=>line(x,3140,x,3159,'#000',1.6));
ol.concat([490,500,560,605,900,880]).forEach(x=>line(x,3161,x,3180,'#ed1c24',1.3));
function spikes(y,c,xs,maxh){xs.forEach(x=>{for(let k=0;k<5;k++){const xx=x+(rnd()-0.5)*16,hh=rnd()*maxh;line(xx,y,xx,y-hh,c,1);}});}
spikes(3203,'#ed1c24',[580,615,712],18);spikes(3224,'#000',[585,712,740,850,925],15);spikes(3244,'#c94ba0',[580,712,740,850],14);
spikes(3265,'#3fc5d9',[580,610,712,740,853],18);spikes(3286,'#2e3192',[584,620,712,740],18);spikes(3306,'#39b54a',[580,612,655,705,740,852],20);
spikes(3326,'#ed1c24',[582,615,712,740,850],20);spikes(3345,'#000',[525,563,712,852,943],16);
line(409,3348,969,3348,'#333',1.2);[409,549,689,829,969].forEach(x=>line(x,3348,x,3358,'#333',1.2));
[407,443,479,515,553].forEach(x=>line(x,3432,x,3442,'#333',1));
function violin(cx,ty,by,mw,c,prof){const pts=[];prof.forEach(p=>pts.push([cx-p[1]*mw,ty+p[0]*(by-ty)]));const rp=prof.slice().reverse().map(p=>[cx+p[1]*mw,ty+p[0]*(by-ty)]);
  el('path',{d:'M'+pts.concat(rp).map(p=>p[0].toFixed(1)+','+p[1].toFixed(1)).join(' L')+' Z',fill:c,stroke:'#333','stroke-width':0.8});
  el('rect',{x:cx-3,y:ty+0.25*(by-ty),width:6,height:0.15*(by-ty),fill:'#ccc',stroke:'#333','stroke-width':0.6});}
violin(727,3428,3510,54,'#000',[[0,0.05],[0.06,0.3],[0.14,0.75],[0.22,1],[0.3,0.7],[0.42,0.3],[0.6,0.15],[0.8,0.07],[1,0.04]]);
violin(860,3428,3505,54,'#ed1c24',[[0,0.05],[0.06,0.35],[0.14,0.8],[0.22,1],[0.3,0.8],[0.45,0.35],[0.65,0.15],[0.85,0.06],[1,0.03]]);
violin(994,3424,3510,54,'#3fb54a',[[0,0.1],[0.08,0.45],[0.2,0.85],[0.3,1],[0.4,0.8],[0.55,0.4],[0.75,0.15],[0.9,0.07],[1,0.05]]);
el('polyline',{points:'727,3414 727,3409 860,3409 860,3414',fill:'none',stroke:'#333','stroke-width':1});
el('polyline',{points:'860,3408 860,3403 994,3403 994,3408',fill:'none',stroke:'#333','stroke-width':1});
[3425,3475,3509].forEach(y=>line(636,y,644,y,'#333',1));

function barchart(top,bot,b1,b2,ticks){el('rect',{x:1803,y:top,width:230,height:bot-top,fill:'none',stroke:'#333','stroke-width':1});
  el('rect',{x:1847,y:b1,width:38,height:bot-b1,fill:'#b3b3b3'});el('rect',{x:1941,y:b2,width:38,height:bot-b2,fill:'#b3b3b3'});
  ticks.forEach(y=>line(1789,y,1802,y,'#333',1));line(1867,bot+2,1867,bot+12,'#333',1);line(1959,bot+2,1959,bot+12,'#333',1);}
barchart(2223,2484,2391,2239,[2233,2269,2312,2355,2398,2441,2486]);
barchart(2593,2854,2716,2612,[2632,2676,2721,2765,2811,2855]);
function scatter(top,bot,n1,n2,y0,y1,mean1,mean2,med1,med2,ticks){
  el('rect',{x:2181,y:top,width:257,height:bot-top,fill:'none',stroke:'#333','stroke-width':1});
  ticks.forEach(y=>line(2174,y,2181,y,'#333',1));line(2277,bot,2277,bot+10,'#333',1);line(2356,bot,2356,bot+10,'#333',1);
  for(let k=0;k<n1;k++)el('rect',{x:2282+(rnd()-0.5)*36-2,y:y0+Math.pow(rnd(),0.8)*(y1-y0)-2,width:4,height:4,fill:'#bcbcbc'});
  for(let k=0;k<n2;k++)el('rect',{x:2352+(rnd()-0.5)*42-2,y:y0+Math.pow(rnd(),0.8)*(y1-y0)-2,width:4,height:4,fill:'#bcbcbc'});
  line(2261,mean1,2303,mean1,'#000',1.6);line(2331,mean2,2373,mean2,'#000',1.6);
  line(2261,med1,2303,med1,'#ed1c24',1.6);line(2331,med2,2373,med2,'#ed1c24',1.6);
  el('polyline',{points:`2282,${top+25} 2282,${top+16} 2352,${top+16} 2352,${top+25}`,fill:'none',stroke:'#333','stroke-width':1});
  line(2386,top+5,2398,top+5,'#333',1);line(2386,top+16,2398,top+16,'#ed1c24',1);}
scatter(2244,2455,45,130,2277,2448,2323,2313,2353,2332,[2300,2350,2385,2450]);
scatter(2619,2828,150,260,2632,2825,2700,2694,2731,2714,[2620,2672,2724,2776,2827]);
embryo(1872,2545,80,'head');embryo(1961,2545,80,'body');embryo(2268,2532,80,'head');embryo(2357,2532,80,'body');
embryo(1872,2918,78,'head');embryo(1961,2918,78,'body');embryo(2268,2912,78,'head');embryo(2357,2912,78,'body');

for(let x=0;x<2696;x+=35)el('rect',{x:x,y:3938,width:17,height:21,fill:'#d41a4a'});
</script>
</body></html>
